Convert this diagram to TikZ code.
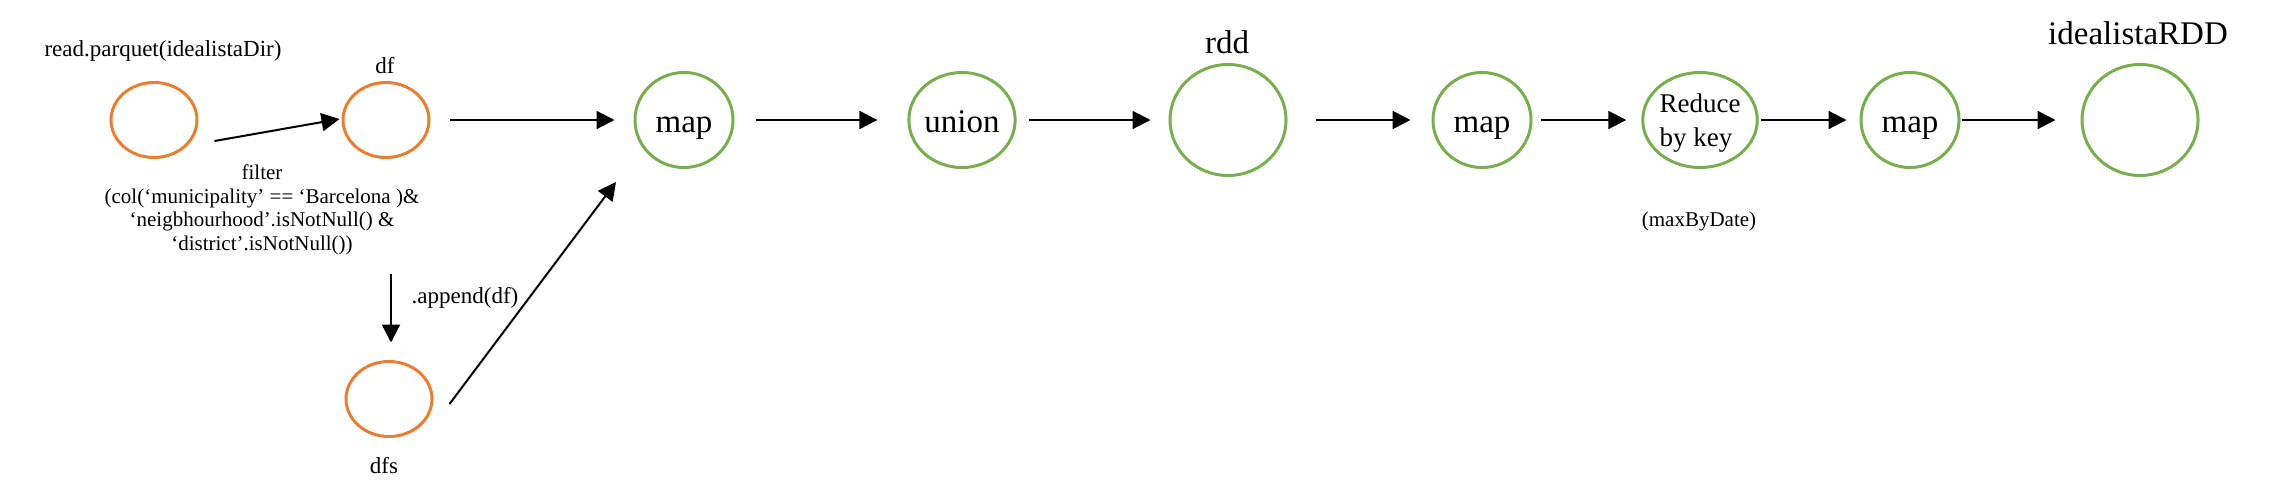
\documentclass[tikz,border=0pt]{standalone}
\usepackage{fontspec}
\setmainfont{Liberation Serif}
\usetikzlibrary{shapes.geometric,arrows.meta}
\definecolor{orng}{RGB}{230,126,52}
\definecolor{grn}{RGB}{122,173,79}
\begin{document}
\begin{tikzpicture}[x=1pt,y=-1pt,
  obox/.style={ellipse, draw=orng, line width=3pt, minimum width=86pt, minimum height=75pt, inner sep=0pt},
  gcirc/.style={ellipse, draw=grn, line width=3pt, minimum width=98pt, minimum height=95pt, inner sep=0pt},
  gword/.style={gcirc, font=\fontsize{33}{40}\selectfont, text height=24pt, text depth=0pt},
  bigbox/.style={gcirc, minimum width=116pt, minimum height=111pt},
  arr/.style={-{Triangle[length=18pt,width=18pt]}, line width=2pt},
  lbl/.style={inner sep=0pt, anchor=base, font=\fontsize{23}{28}\selectfont},
  smalllbl/.style={lbl, font=\fontsize{21}{23.5}\selectfont},
  biglbl/.style={lbl, font=\fontsize{33}{40}\selectfont}
]
\useasboundingbox (0,0) rectangle (2290,496);
% nodes
\node[obox] (src) at (154,120) {};
\node[obox] (df) at (386,120) {};
\node[obox] (dfs) at (389,399) {};
\node[gword] (map1) at (684,120) {map};
\node[gword] (union) at (962,120) {union};
\node[bigbox] (rdd) at (1228,120) {};
\node[gword] (map2) at (1482,120) {map};
\node[gcirc, font=\fontsize{27}{34}\selectfont, align=left, text depth=0pt] (reduce) at (1700,120) {Reduce\\by key};
\node[gword] (map3) at (1910,120) {map};
\node[bigbox] (final) at (2140,120) {};
% labels
\node[lbl] (lsrc) at (163,56) {read.parquet(idealistaDir)};
\node[lbl] (ldf) at (385,73) {df};
\node[lbl] (ldfs) at (384,473) {dfs};
\node[lbl] (lapp) at (465,303) {.append(df)};
\node[smalllbl, align=center] (lfilt) at (262,250) {filter\\(col(‘municipality’ == ‘Barcelona )\&\\‘neigbhourhood’.isNotNull() \&\\‘district’.isNotNull())};
\node[biglbl] (lrdd) at (1227,53) {rdd};
\node[biglbl] (lfinal) at (2138,44) {idealistaRDD};
\node[smalllbl] (lmax) at (1699,226) {(maxByDate)};
% connectors
\draw[arr] ([shift={(16,21)}]src.east) -- ([shift={(-2,-1)}]df.west);
\draw[arr, shorten <=19pt, shorten >=19pt] (df.east) -- (map1.west);
\draw[arr] ([shift={(5,114.5)}]df.south) -- ([shift={(2,-17.5)}]dfs.north);
\draw[arr] ([shift={(16,5)}]dfs.east) -- ([shift={(-68,62)}]map1.center);
\draw[arr, shorten <=21pt, shorten >=30pt] (map1.east) -- (union.west);
\draw[arr, shorten <=12pt, shorten >=18pt] (union.east) -- (rdd.west);
\draw[arr, shorten <=28pt, shorten >=21pt] (rdd.east) -- (map2.west);
\draw[arr, shorten <=8pt, shorten >=15pt] (map2.east) -- (reduce.west);
\draw[arr, shorten <=2pt, shorten >=13pt] (reduce.east) -- (map3.west);
\draw[arr, shorten <=1pt, shorten >=25pt] (map3.east) -- (final.west);
\end{tikzpicture}
\end{document}
